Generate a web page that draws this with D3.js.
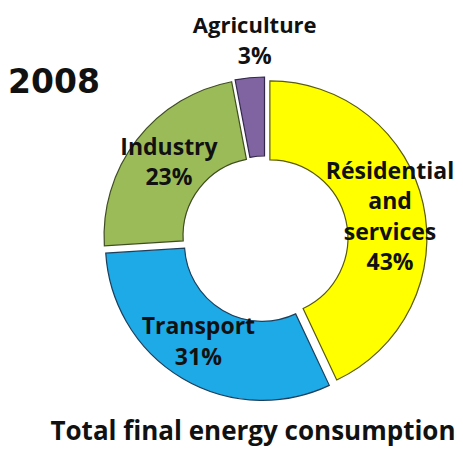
<!DOCTYPE html>
<html>
<head>
<meta charset="utf-8">
<script src="https://cdn.jsdelivr.net/npm/d3@7"></script>
<style>
  body { margin: 0; background: #fff; }
  .label { font-family: 'Open Sans', 'DejaVu Sans', sans-serif; font-weight: 700; fill: #111; }
</style>
</head>
<body>
<svg width="463" height="449"></svg>
<script>
const categories = ['Résidential and services', 'Transport', 'Industry', 'Agriculture'];
const shares = [43, 31, 23, 3];
const labelLines = [['Résidential', 'and', 'services', '43%'], ['Transport', '31%'], ['Industry', '23%'], ['Agriculture', '3%']];
const year = '2008';
const title = 'Total final energy consumption';

const colors = ['#ffff00', '#1eaae6', '#9bbb59', '#8064a2'];
const strokes = ['#5a5a10', '#1d3f5c', '#3f4d22', '#33284a'];

const svg = d3.select('svg');
const cx = 265, cy = 239;
const outerR = 157, innerR = 78;
const explode = 5;

const data = categories.map((c, i) => ({name: c, value: shares[i], lines: labelLines[i], i}));

const pie = d3.pie()
	.value(d => d.value)
	.sort(null);

const arc = d3.arc()
	.innerRadius(innerR)
	.outerRadius(outerR);

const arcs = pie(data);

const g = svg.append('g')
	.attr('transform', `translate(${cx}, ${cy})`);

const offset = d => {
	const a = (d.startAngle + d.endAngle) / 2;
	return [Math.sin(a) * explode, -Math.cos(a) * explode];
};

g.selectAll('path')
	.data(arcs)
	.enter().append('path')
		.attr('d', arc)
		.attr('transform', d => `translate(${offset(d)})`)
		.attr('fill', d => colors[d.data.i])
		.attr('stroke', d => strokes[d.data.i])
		.attr('stroke-width', 1.2);

// label radius and small nudges per slice
const labelR = [117, 120, 114, 200];
const nudge = [[6, 4], [-3, -5], [-2, -4], [9, 6]];
const lineH = 30.5;

arcs.forEach(d => {
	const i = d.data.i;
	const a = (d.startAngle + d.endAngle) / 2;
	const [ox, oy] = offset(d);
	const x = Math.sin(a) * labelR[i] + ox + nudge[i][0];
	const y = -Math.cos(a) * labelR[i] + oy + nudge[i][1];
	const lines = d.data.lines;
	const t = g.append('text')
		.attr('class', 'label')
		.attr('text-anchor', 'middle')
		.attr('x', x)
		.attr('y', y - (lines.length - 1) * lineH / 2)
		.attr('dy', '0.35em');
	lines.forEach((l, k) => {
		t.append('tspan')
			.attr('x', x)
			.attr('dy', k === 0 ? '0.35em' : lineH)
			.style('font-size', i === 3 && k === 0 ? '22px' : '23px')
			.text(l);
	});
});

svg.append('text')
	.attr('x', 8)
	.attr('y', 93)
	.style('font-family', "'DejaVu Sans', sans-serif")
	.style('font-size', '33px')
	.style('font-weight', 700)
	.attr('fill', '#111')
	.text(year);

svg.append('text')
	.attr('class', 'label')
	.attr('x', 253)
	.attr('y', 440)
	.attr('text-anchor', 'middle')
	.style('font-size', '26px')
	.text(title);
</script>
</body>
</html>
